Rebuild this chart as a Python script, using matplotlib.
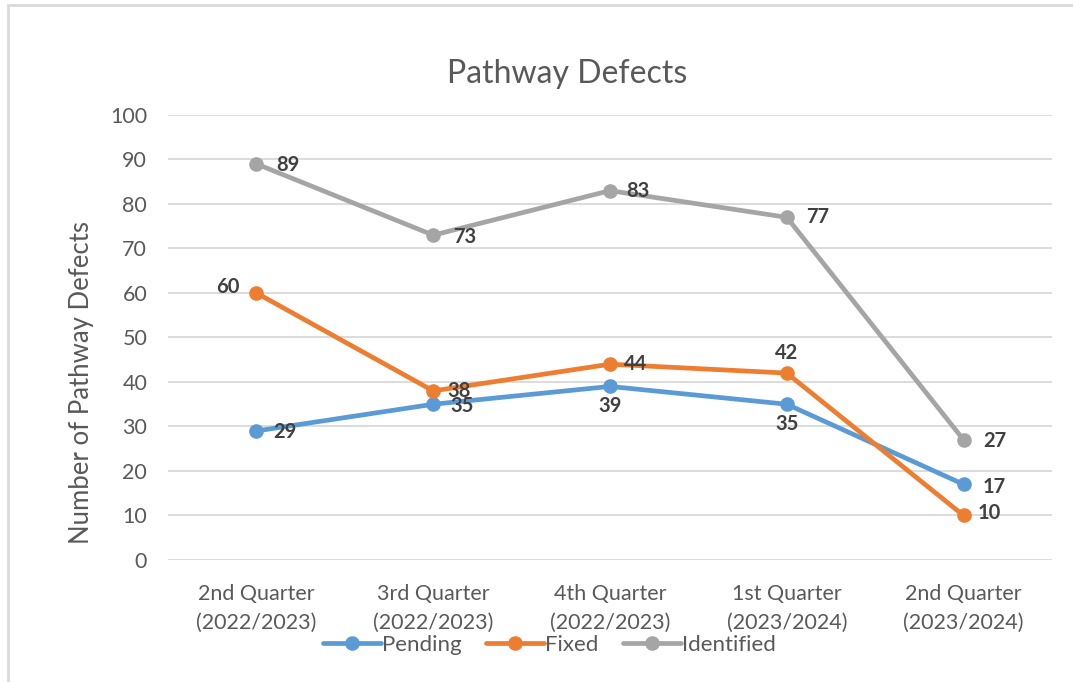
import matplotlib.pyplot as plt
from matplotlib.patches import Rectangle

plt.rcParams['font.family'] = ['Lato', 'DejaVu Sans']

quarters = ['2nd Quarter\n(2022/2023)', '3rd Quarter\n(2022/2023)', '4th Quarter\n(2022/2023)',
            '1st Quarter\n(2023/2024)', '2nd Quarter\n(2023/2024)']
pending = [29, 35, 39, 35, 17]
fixed = [60, 38, 44, 42, 10]
identified = [89, 73, 83, 77, 27]

# label placement per point: (dx, dy) in points, ha, va
pend_pos = [(12, -1, 'left', 'center'), (12, -1, 'left', 'center'), (0, -7, 'center', 'top'),
            (0, -7, 'center', 'top'), (14, -2, 'left', 'center')]
fix_pos = [(-12, 4, 'right', 'center'), (10, 0, 'left', 'center'), (10, 0, 'left', 'center'),
           (0, 7, 'center', 'bottom'), (10, 2, 'left', 'center')]
ident_pos = [(14, -1, 'left', 'center'), (14, -1, 'left', 'center'), (12, 0, 'left', 'center'),
             (14, 0, 'left', 'center'), (14, -1, 'left', 'center')]

fig = plt.figure(figsize=(10.73, 6.82), dpi=100)
ax = fig.add_axes([0.1566, 0.1789, 0.8238, 0.6525])

x = range(len(quarters))
series = [('Pending', pending, '#5B9BD5', pend_pos),
          ('Fixed', fixed, '#ED7D31', fix_pos),
          ('Identified', identified, '#A5A5A5', ident_pos)]
for name, vals, col, pos in series:
    ax.plot(x, vals, color=col, lw=3.4, marker='o', ms=9.5, label=name, solid_capstyle='round')
    for i, v in enumerate(vals):
        dx, dy, ha, va = pos[i]
        ax.annotate(str(v), (i, v), xytext=(dx, dy), textcoords='offset points',
                    ha=ha, va=va, fontsize=14.5, fontweight='bold', color='#404040')

ax.set_xlim(-0.5, 4.5)
ax.set_ylim(0, 100)
ax.set_yticks(range(0, 101, 10))
ax.set_xticks(list(x))
ax.set_xticklabels(quarters, linespacing=1.6)
ax.grid(axis='y', color='#D9D9D9', lw=1.3)
ax.set_axisbelow(True)
for s in ax.spines.values():
    s.set_visible(False)
ax.tick_params(length=0, labelsize=15.5, labelcolor='#595959')
ax.tick_params(axis='y', pad=15)
ax.tick_params(axis='x', pad=17)
ax.set_ylabel('Number of Pathway Defects', fontsize=18.5, color='#595959')
ax.yaxis.set_label_coords(-0.084, 0.398)

fig.text(0.529, 0.892, 'Pathway Defects', ha='center', va='center', fontsize=23, color='#595959')

fig.legend(loc='center', bbox_to_anchor=(0.512, 0.054), ncol=3, frameon=False, fontsize=16,
           labelcolor='#595959', handlelength=2.6, handletextpad=0.05, columnspacing=1.1)

fig.patches.append(Rectangle((8 / 1073, -0.1), 1.2, 1 - 5 / 682 + 0.1, transform=fig.transFigure,
                             fill=False, edgecolor='#D9D9D9', lw=2))

fig.savefig('out.png', dpi=100)
